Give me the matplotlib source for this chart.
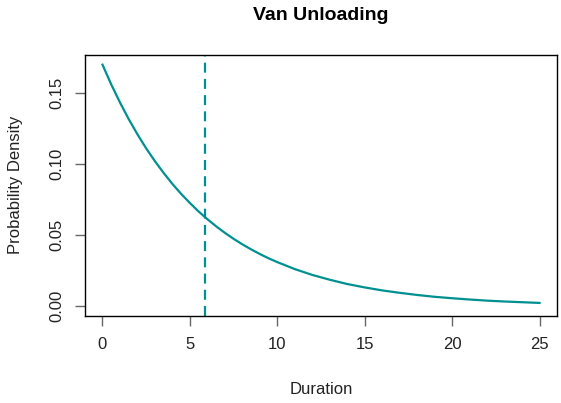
import matplotlib.pyplot as plt
import numpy as np

plt.rcParams['font.family'] = ['Liberation Sans', 'DejaVu Sans']

# density (half-minute steps where the curve bends most)
duration = [0, 0.5, 1, 1.5, 2, 2.5, 3, 3.5, 4, 4.5, 5, 5.5, 6, 6.5, 7, 7.5,
            8, 8.5, 9, 9.5, 10, 11, 12, 13, 14, 15, 16, 17, 18, 19, 20, 21,
            22, 23, 24, 25]
density = [0.1700, 0.1561, 0.1434, 0.1317, 0.1210, 0.1111, 0.1021, 0.0938,
           0.0861, 0.0791, 0.0727, 0.0667, 0.0613, 0.0563, 0.0517, 0.0475,
           0.0436, 0.0401, 0.0368, 0.0338, 0.0311, 0.0262, 0.0221, 0.0187,
           0.0157, 0.0133, 0.0112, 0.0095, 0.0080, 0.0067, 0.0057, 0.0048,
           0.0040, 0.0034, 0.0029, 0.0024]
mean_duration = 5.88
xticks = [0, 5, 10, 15, 20, 25]
yticks = [0.00, 0.05, 0.10, 0.15]

teal = '#009090'

fig = plt.figure(figsize=(5.61, 4.03), dpi=100)
ax = fig.add_axes([85 / 561, 1 - 316 / 403, (557 - 85) / 561, (316 - 55) / 403])

ax.plot(duration, density, color=teal, lw=1.6)
ax.axvline(mean_duration, color=teal, lw=1.6, ls=(0, (4.5, 2.8)))

ax.set_xlim(-1, 26)
ax.set_ylim(-0.0068, 0.1768)
ax.set_xticks(xticks)
ax.set_xticklabels([str(t) for t in xticks])
ax.set_yticks(yticks)
ax.set_yticklabels(['%.2f' % t for t in yticks], rotation=90, va='center')
ax.tick_params(length=7, width=1, color='#666666', labelsize=12, labelcolor='#222222', pad=8)

for s in ax.spines.values():
    s.set_linewidth(1)

# R centres titles on the plot region, not the figure
mid_x = (85 + 557) / 2 / 561
fig.text(mid_x, 1 - 15 / 403, 'Van Unloading', ha='center', va='center',
         fontsize=14, fontweight='bold')
fig.text(mid_x, 1 - 390 / 403, 'Duration', ha='center', va='center', fontsize=12,
         color='#222222')
fig.text(16 / 561, 1 - 185 / 403, 'Probability Density', ha='center', va='center',
         rotation=90, fontsize=12, color='#222222')

fig.savefig('out.png', dpi=100)
